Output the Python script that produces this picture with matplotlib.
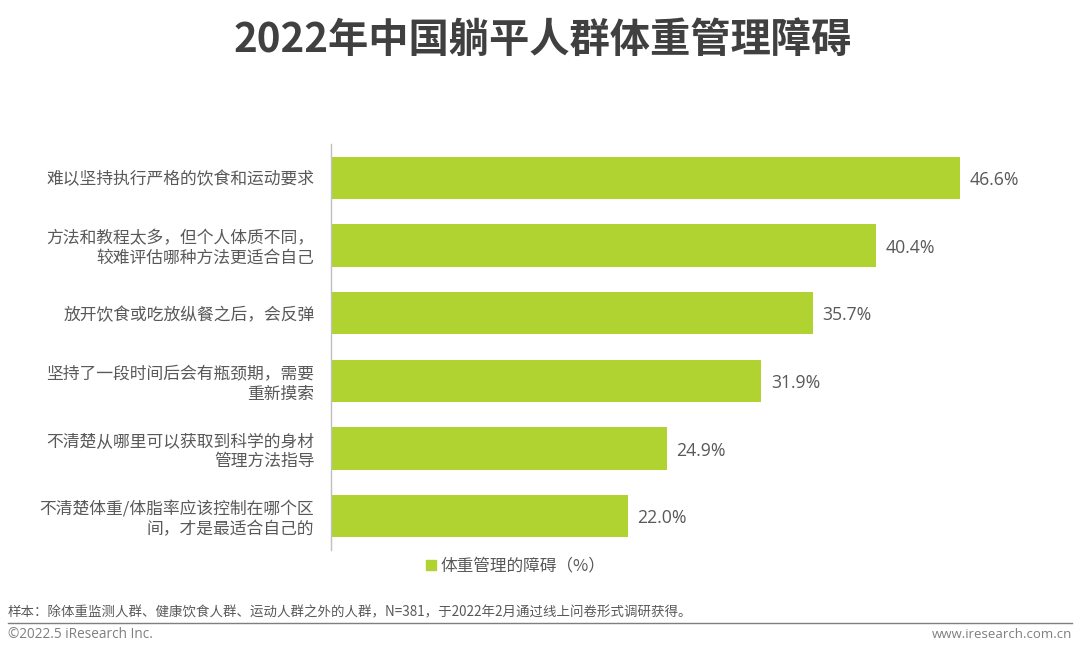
import matplotlib
matplotlib.use('Agg')
import matplotlib.pyplot as plt
from matplotlib.lines import Line2D

plt.rcParams['font.family'] = ['Noto Sans CJK SC', 'DejaVu Sans']

labels = ['难以坚持执行严格的饮食和运动要求',
          '方法和教程太多，但个人体质不同，\n较难评估哪种方法更适合自己',
          '放开饮食或吃放纵餐之后，会反弹',
          '坚持了一段时间后会有瓶颈期，需要\n重新摸索',
          '不清楚从哪里可以获取到科学的身材\n管理方法指导',
          '不清楚体重/体脂率应该控制在哪个区\n间，才是最适合自己的']
values = [46.6, 40.4, 35.7, 31.9, 24.9, 22.0]
green = '#B0D332'
grey = '#595959'

fig = plt.figure(figsize=(10.8, 6.58), dpi=100)
# axes placed to match the plot area, x runs from the axis line at 331px
ax = fig.add_axes([331/1080, 1-550/658, 700/1080, 406/658])
ax.barh(range(len(values)), values, height=0.63, color=green)
ax.set_yticks(range(len(values)))
ax.set_yticklabels(labels, fontsize=12.1, color=grey, linespacing=1.2, ha='right')
ax.set_ylim(len(values)-0.5, -0.5)
ax.set_xlim(0, 700/13.49)
ax.xaxis.set_visible(False)
ax.tick_params(axis='y', length=0, pad=12)
for s in ['top', 'right', 'bottom']:
    ax.spines[s].set_visible(False)
ax.spines['left'].set_color('#BFBFBF')
ax.spines['left'].set_linewidth(1)

for i, v in enumerate(values):
    ax.text(v + 0.72, i + 0.03, f'{v:.1f}%', va='center', ha='left', fontsize=12.7, color=grey,
            family=['Open Sans', 'DejaVu Sans'])

fig.text(543/1080, 1-40/658, '2022年中国躺平人群体重管理障碍', ha='center', va='center',
         fontsize=29, fontweight='bold', color='#404040')

# legend
handle = Line2D([], [], marker='s', linestyle='none', color=green, markersize=7.5)
fig.legend(handles=[handle], labels=['体重管理的障碍（%）'], loc='center', bbox_to_anchor=(514/1080, 1-566/658),
           frameon=False, fontsize=12, labelcolor=grey, handlelength=1, handletextpad=0.05)

fig.text(8/1080, 1-612/658, '样本：除体重监测人群、健康饮食人群、运动人群之外的人群，N=381，于2022年2月通过线上问卷形式调研获得。',
         ha='left', va='center', fontsize=9.7, color=grey)
fig.add_artist(Line2D([8/1080, 1072/1080], [1-623/658, 1-623/658], color='#7F7F7F', linewidth=1))
fig.text(8/1080, 1-634/658, '©2022.5 iResearch Inc.', ha='left', va='center', fontsize=9.8, color='#7F7F7F',
         family=['Open Sans', 'DejaVu Sans'])
fig.text(1072/1080, 1-634/658, 'www.iresearch.com.cn', ha='right', va='center', fontsize=9.5, color='#7F7F7F',
         family=['Open Sans', 'DejaVu Sans'])

fig.savefig('out.png', dpi=100)
